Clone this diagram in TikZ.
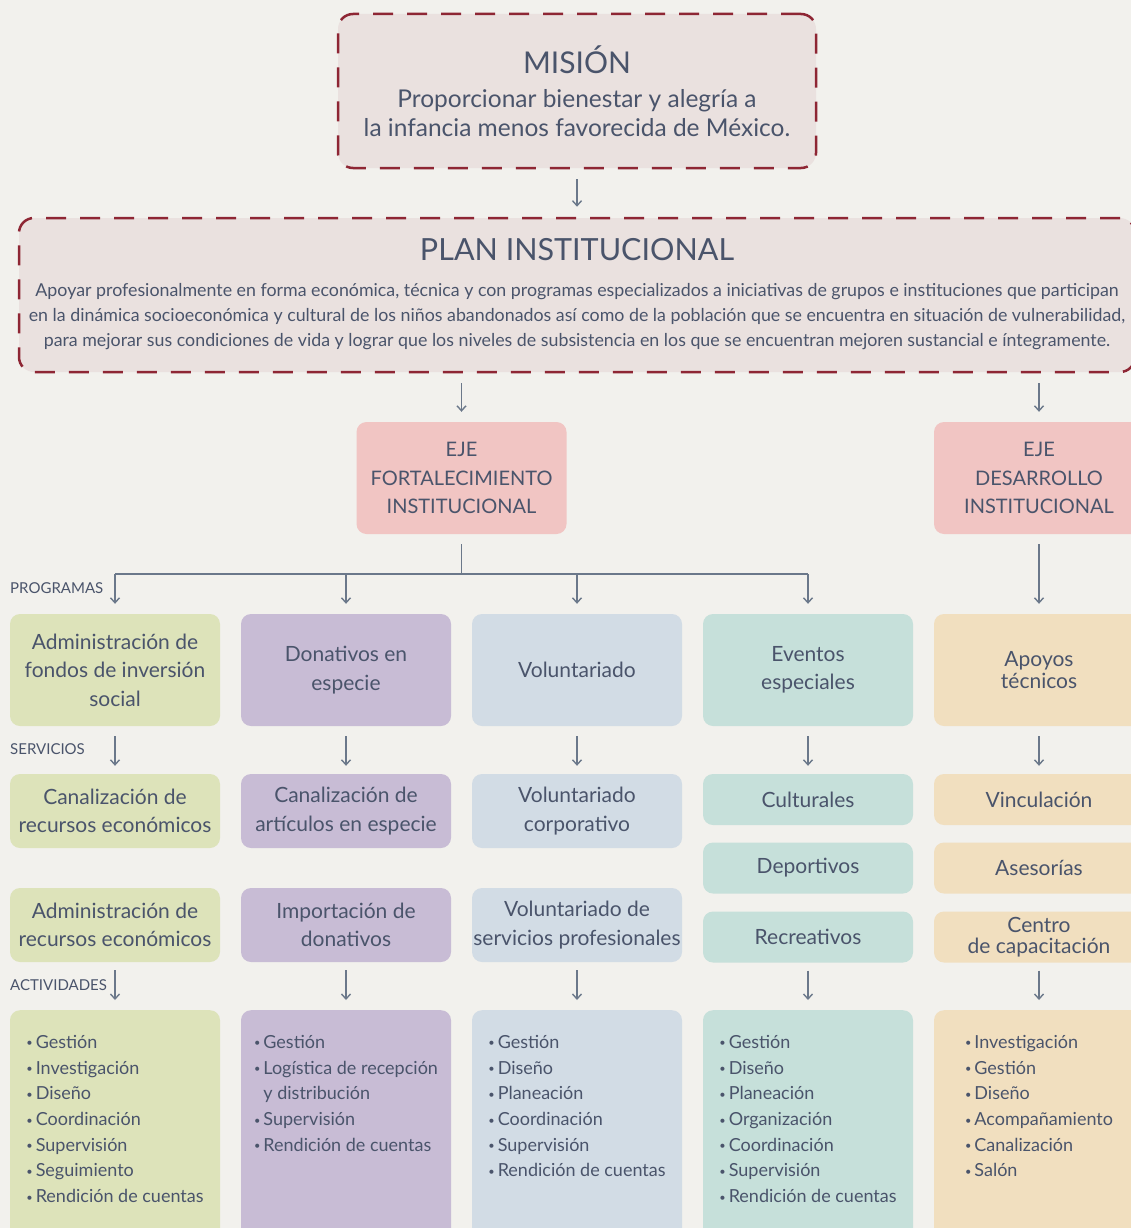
\documentclass[tikz,border=0pt]{standalone}
\usepackage{fontspec}
\setmainfont{Lato}
\usetikzlibrary{arrows.meta}
\definecolor{paper}{HTML}{F2F1ED}
\definecolor{ink}{HTML}{4A546B}
\definecolor{wire}{HTML}{6B788A}
\definecolor{wine}{HTML}{8E2634}
\definecolor{rose}{HTML}{EAE1DF}
\definecolor{ejepink}{HTML}{F1C5C3}
\definecolor{cgreen}{HTML}{DDE3BA}
\definecolor{cpurple}{HTML}{C8BCD5}
\definecolor{cblue}{HTML}{D2DCE5}
\definecolor{cteal}{HTML}{C6E0DA}
\definecolor{ctan}{HTML}{F1DFBF}
\newcommand{\bul}{\raisebox{1.5pt}{\fontsize{11}{11}\selectfont\textbullet}\hspace{3pt}}

\begin{document}
\begin{tikzpicture}[x=1pt,y=-1pt,
    >={Straight Barb[length=5pt,width=9pt]},
    mainbox/.style={draw=wine, line width=2.5pt, dash pattern=on 20pt off 14pt,
        fill=rose, rounded corners=15pt, inner sep=0pt},
    box/.style={rounded corners=10pt, minimum width=210pt, inner sep=0pt,
        align=center, text=ink, font=\fontsize{21}{28.5}\selectfont},
    eje/.style={box, fill=ejepink, minimum height=112pt, font=\fontsize{20}{28.5}\selectfont},
    prog/.style={box, minimum height=112pt},
    serv/.style={box, minimum height=74pt},
    small/.style={box, minimum height=51pt},
    actbox/.style={box, minimum height=230pt, anchor=north},
    acts/.style={anchor=north, align=left, inner sep=0pt, text=ink,
        font=\fontsize{18}{25.7}\selectfont},
    tag/.style={anchor=west, inner sep=0pt, text=ink, font=\fontsize{15}{15}\selectfont},
    line/.style={draw=wire, line width=1.4pt},
    arr/.style={line, ->, shorten >=10pt}
]
\clip (0,0) rectangle (1131,1228);
\fill[paper] (0,0) rectangle (1131,1228);

% mision
\node[mainbox, minimum width=478pt, minimum height=154pt] (mision) at (577,91) {};
\node[text=ink, font=\fontsize{30}{30}\selectfont] (mtitle) at (577,60) {MISIÓN};
\node[text=ink, align=center, font=\fontsize{24.5}{28.5}\selectfont] (mtext) at (577,113)
    {Proporcionar bienestar y alegría a\\la infancia menos favorecida de México.};

% plan
\node[mainbox, minimum width=1116pt, minimum height=154pt] (plan) at (577,295) {};
\node[text=ink, font=\fontsize{30.5}{30.5}\selectfont] (ptitle) at (577,250) {PLAN INSTITUCIONAL};
\node[text=ink, align=center, font=\fontsize{17.8}{25}\selectfont] (ptext) at (577,317)
    {Apoyar profesionalmente en forma económica, técnica y con programas especializados a iniciativas de grupos e instituciones que participan\\
     en la dinámica socioeconómica y cultural de los niños abandonados así como de la población que se encuentra en situación de vulnerabilidad,\\
     para mejorar sus condiciones de vida y lograr que los niveles de subsistencia en los que se encuentran mejoren sustancial e íntegramente.};

% ejes
\node[eje] (ejeF) at (461.5,478) {EJE\\FORTALECIMIENTO\\INSTITUCIONAL};
\node[eje] (ejeD) at (1039,478) {EJE\\DESARROLLO\\INSTITUCIONAL};

% programas
\node[prog, fill=cgreen] (p1) at (115,670) {Administración de\\fondos de inversión\\social};
\node[prog, fill=cpurple] (p2) at (346,670) {Donativos en\\especie};
\node[prog, fill=cblue] (p3) at (577,670) {Voluntariado};
\node[prog, fill=cteal] (p4) at (808,670) {Eventos\\especiales};
\node[prog, fill=ctan] (p5) at (1039,670) {Apoyos\\[-6pt]técnicos};

% servicios
\node[serv, fill=cgreen] (s1) at (115,811) {Canalización de\\recursos económicos};
\node[serv, fill=cgreen] (t1) at (115,925) {Administración de\\recursos económicos};
\node[serv, fill=cpurple] (s2) at (346,811) {Canalización de\\artículos en especie};
\node[serv, fill=cpurple] (t2) at (346,925) {Importación de\\donativos};
\node[serv, fill=cblue] (s3) at (577,811) {Voluntariado\\corporativo};
\node[serv, fill=cblue] (t3) at (577,925) {Voluntariado de\\servicios profesionales};
\node[small, fill=cteal] (s4) at (808,799.5) {Culturales};
\node[small, fill=cteal] (u4) at (808,868) {Deportivos};
\node[small, fill=cteal] (t4) at (808,937) {Recreativos};
\node[small, fill=ctan] (s5) at (1039,799.5) {Vinculación};
\node[small, fill=ctan] (u5) at (1039,868) {Asesorías};
\node[small, fill=ctan] (t5) at (1039,937) {Centro\\[-8pt]de capacitación};

% actividades
\node[actbox, fill=cgreen] (a1) at (115,1010) {};
\node[actbox, fill=cpurple] (a2) at (346,1010) {};
\node[actbox, fill=cblue] (a3) at (577,1010) {};
\node[actbox, fill=cteal] (a4) at (808,1010) {};
\node[actbox, fill=ctan] (a5) at (1039,1010) {};
\node[acts] (l1) at (115,1035) {\bul Gestión\\\bul Investigación\\\bul Diseño\\\bul Coordinación\\\bul Supervisión\\\bul Seguimiento\\\bul Rendición de cuentas};
\node[acts] (l2) at (346,1035) {\bul Gestión\\\bul Logística de recepción\\\hphantom{\bul}y distribución\\\bul Supervisión\\\bul Rendición de cuentas};
\node[acts] (l3) at (577,1035) {\bul Gestión\\\bul Diseño\\\bul Planeación\\\bul Coordinación\\\bul Supervisión\\\bul Rendición de cuentas};
\node[acts] (l4) at (808,1035) {\bul Gestión\\\bul Diseño\\\bul Planeación\\\bul Organización\\\bul Coordinación\\\bul Supervisión\\\bul Rendición de cuentas};
\node[acts] (l5) at (1039,1035) {\bul Investigación\\\bul Gestión\\\bul Diseño\\\bul Acompañamiento\\\bul Canalización\\\bul Salón};

% etiquetas
\node[tag] (tprog) at (10,588) {PROGRAMAS};
\node[tag] (tserv) at (10,749) {SERVICIOS};
\node[tag] (tact) at (10,985) {ACTIVIDADES};

% conectores
\draw[arr, shorten <=10pt] (mision.south) -- (mision.south |- plan.north);
\draw[arr, shorten <=10pt] (plan.south -| ejeF.north) -- (ejeF.north);
\draw[arr, shorten <=10pt] (plan.south -| ejeD.north) -- (ejeD.north);
\coordinate (bus) at (461.5,574);
\draw[line, shorten <=10pt] (ejeF.south) -- (bus);
\draw[line] (bus -| p1.north) -- (bus -| p4.north);
\foreach \i in {1,2,3,4}
  \draw[arr] (bus -| p\i.north) -- (p\i.north);
\draw[arr, shorten <=10pt] (ejeD.south) -- (p5.north);
\foreach \i in {1,...,5}
  \draw[arr, shorten <=10pt, shorten >=8pt] (p\i.south) -- (s\i.north);
\foreach \i in {1,...,5}
  \draw[arr, shorten <=8pt] (t\i.south) -- (a\i.north);
\end{tikzpicture}
\end{document}
